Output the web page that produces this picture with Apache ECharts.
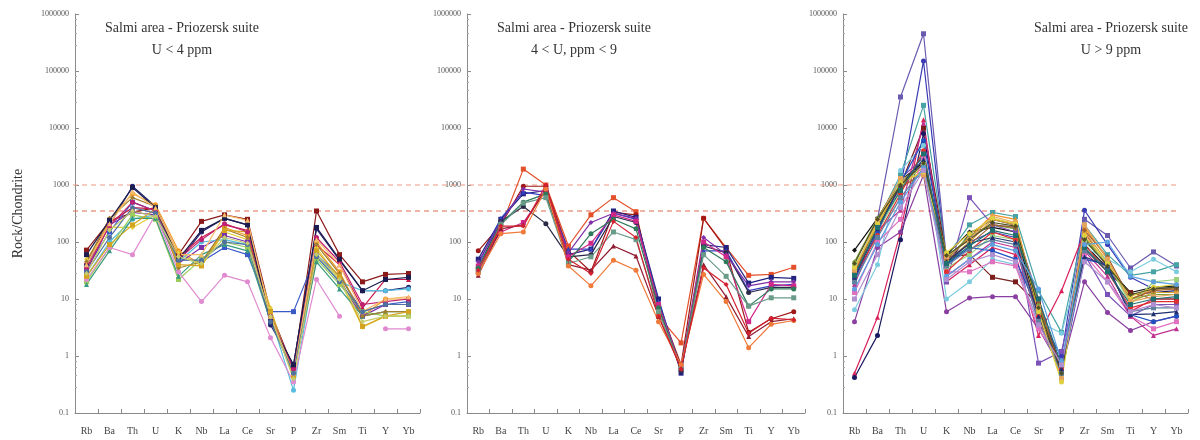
<!DOCTYPE html>
<html>
<head>
<meta charset="utf-8">
<script src="https://cdn.jsdelivr.net/npm/echarts@6/dist/echarts.min.js"></script>
<style>html,body{margin:0;padding:0;background:#fff}#c{width:1200px;height:440px}</style>
</head>
<body>
<div id="c"></div>
<script>
const categories = ['Rb','Ba','Th','U','K','Nb','La','Ce','Sr','P','Zr','Sm','Ti','Y','Yb'];
const panelTitle = 'Salmi area - Priozersk suite';
const panelSubtitles = ['U < 4 ppm', '4 < U, ppm < 9', 'U > 9 ppm'];
const yAxisName = 'Rock/Chondrite';
const refLines = [1000, 350];

// Panel 1: U < 4 ppm
const panel1 = [
  [72, 230, 330, 400, 60, 230, 300, 250, 6, 0.6, 350, 60, 20, 27, 28],
  [40, 200, 950, 420, 45, 150, 260, 200, 3.5, 0.7, 170, 48, 14, 14, 16],
  [35, 150, 500, 350, 50, 45, 80, 60, 6, 6, 60, 25, 6, 8, 9],
  [45, 220, 400, 380, 55, 120, 200, 160, 5, 0.6, 90, 40, 7, 22, 22],
  [30, 250, 700, 450, 70, 40, 180, 130, 5, 0.5, 100, 30, 5, 10, 10],
  [50, 180, 180, 300, 65, 38, 150, 110, 7, 0.4, 80, 22, 3.2, 5, 5],
  [30, 200, 330, 300, 42, 80, 130, 100, 4, 0.55, 60, 20, 5, 8, 8],
  [25, 100, 250, 300, 45, 100, 110, 90, 5, 0.25, 60, 20, 14, 14, 15],
  [20, 80, 300, 250, 22, 50, 100, 80, 5, 0.5, 50, 18, 6, 5, 5],
  [18, 70, 260, 260, 25, 60, 90, 70, 4, 0.5, 45, 15, 5, 6, 6],
  [22, 80, 60, 300, 30, 9, 26, 20, 2.1, 0.35, 22, 5, null, 3, 3],
  [45, 260, 600, 420, 35, 45, 170, 120, 6, 0.5, 90, 28, 5, 6, 6],
  [25, 90, 200, 380, 40, 38, 160, 150, 6, 0.45, 70, 25, 3.3, 5, 6],
  [35, 190, 500, 350, 50, 110, 210, 150, 5, 0.6, 120, 45, 8, 9, 10],
  [60, 240, 900, 400, 50, 160, 260, 200, 4, 0.7, 180, 50, 14, 22, 24],
  [40, 210, 750, 400, 60, 60, 300, 240, 5, 0.5, 110, 40, 6, 10, 11],
  [30, 120, 400, 320, 48, 48, 100, 90, 4, 0.5, 55, 20, 6, 8, 8],
  [28, 160, 350, 280, 55, 42, 120, 95, 5, 0.4, 60, 22, 4, 5, 5]
];
const panel1Colors = ['#8b1a1a','#22226e','#3a5ac8','#c8184a','#f09a28','#e6cc3a','#7a30a8','#58bce0','#9ccc5a','#3a9a80','#e08ad0','#a08030','#d4a420','#c02070','#1c1c50','#f6bc6a','#5070a0','#c4cc6a'];

// Panel 2: 4 < U < 9 ppm
const panel2 = [
  [30, 180, 1900, 1000, 85, 300, 600, 340, 5, 1.7, 260, 80, 26, 27, 36],
  [70, 200, 950, 950, 70, 30, 330, 300, 8, 0.7, 260, 75, 2.6, 4.5, 6],
  [50, 250, 700, 800, 60, 75, 350, 270, 10, 0.5, 90, 80, 19, 24, 23],
  [40, 260, 750, 650, 75, 75, 320, 250, 9, 0.6, 70, 70, 14, 17, 18],
  [35, 230, 420, 210, 55, 60, 280, 220, 8, 0.55, 85, 65, 13, 16, 16],
  [45, 220, 850, 750, 65, 220, 320, 260, 7, 0.6, 120, 60, 17, 20, 20],
  [38, 150, 220, 800, 55, 95, 300, 230, 8, 0.6, 100, 55, 4, 18, 17],
  [35, 210, 500, 700, 45, 140, 250, 170, 7, 0.6, 80, 45, 7.5, 15, 15],
  [30, 200, 480, 600, 42, 55, 150, 110, 6, 0.6, 60, 25, 7.5, 10.5, 10.5],
  [26, 170, 200, 850, 40, 32, 85, 57, 5, 0.6, 40, 11, 2.2, 4, 4.5],
  [28, 140, 150, 850, 38, 17, 48, 32, 4, 0.7, 27, 9, 1.4, 3.6, 4.2],
  [32, 190, 190, 1000, 50, 28, 230, 120, 5, 0.6, 35, 18, 2.5, 4.6, 4.3]
];
const panel2Colors = ['#e4502a','#a01818','#222280','#3442c0','#2a2a48','#8030a8','#d02888','#2e7a5a','#6a9a88','#901c30','#f07a3a','#d42030'];

// Panel 3: U > 9 ppm
const panel3 = [
  [20, 250, 35000, 450000, 50, 120, 200, 180, 10, 0.6, 250, 130, 35, 67, 38],
  [25, 200, 900, 150000, 40, 100, 150, 120, 5, 1.0, 360, 90, 24, 15, 16],
  [30, 230, 1500, 25000, 55, 200, 330, 280, 14, 2.6, 200, 60, 26, 30, 40],
  [0.5, 4.8, 150, 14000, 20, 40, 80, 60, 2.3, 14, 150, 35, 6, 10, 10],
  [0.42, 2.3, 110, 8000, 40, 140, 250, 200, 7, 0.6, 120, 40, 12, 13, 14],
  [72, 260, 1200, 2500, 60, 150, 180, 150, 6, 0.5, 90, 35, 13, 16, 17],
  [30, 180, 1000, 10000, 55, 60, 24, 20, 8, 0.6, 75, 30, 13, 10, 10],
  [4, 80, 150, 1500, 6, 10.4, 11, 11, 3, 0.6, 20, 5.8, 2.8, 4, 5],
  [35, 220, 1300, 3000, 20, 600, 200, 150, 0.75, 1.2, 60, 12, 5, 8, 8],
  [35, 200, 1100, 2000, 50, 120, 300, 250, 6, 0.5, 180, 50, 10, 15, 15],
  [30, 190, 1000, 1800, 45, 100, 250, 200, 7, 0.4, 150, 45, 9, 13, 13],
  [45, 260, 1200, 2200, 50, 130, 200, 170, 8, 0.5, 120, 40, 10, 12, 12],
  [40, 150, 800, 2500, 35, 60, 130, 110, 5, 0.5, 100, 45, 8, 20, 22],
  [6.5, 40, 1800, 5000, 10, 20, 50, 40, 4, 2.5, 80, 50, 30, 50, 30],
  [13, 100, 250, 3000, 30, 30, 45, 38, 3, 0.7, 60, 20, 5, 3, 4],
  [18, 160, 360, 12000, 25, 50, 100, 80, 4, 0.6, 70, 25, 5, 2.3, 3],
  [22, 150, 1100, 6000, 40, 80, 70, 50, 6, 0.5, 50, 40, 5.3, 4, 5],
  [28, 220, 900, 1600, 50, 90, 200, 180, 9, 0.5, 160, 55, 10, 14, 15],
  [32, 240, 1300, 1500, 55, 110, 280, 220, 7, 0.4, 200, 50, 9, 11, 12],
  [25, 130, 700, 4000, 30, 70, 150, 110, 5, 0.6, 90, 30, 7, 9, 9],
  [20, 120, 600, 2000, 38, 75, 110, 90, 4, 0.5, 70, 35, 6, 7, 7],
  [24, 170, 1000, 2800, 45, 95, 120, 100, 5, 0.6, 55, 38, 5.3, 5.5, 6],
  [36, 210, 1100, 1700, 65, 140, 260, 210, 6, 0.35, 130, 42, 11, 16, 18],
  [42, 250, 1000, 2400, 58, 110, 220, 190, 7, 0.5, 110, 38, 12, 15, 16],
  [26, 180, 800, 3500, 42, 85, 160, 130, 10, 0.7, 80, 30, 8, 10, 11],
  [15, 90, 500, 2000, 25, 50, 90, 70, 15, 0.8, 90, 100, 25, 20, 18],
  [10, 60, 400, 1800, 22, 45, 60, 45, 3.5, 0.7, 45, 20, 6, 8, 7]
];
const panel3Colors = ['#6a5ab0','#3a3ab4','#48a4a4','#d8205a','#1a1a60','#111111','#7a1e1e','#8a40a0','#7a52b8','#f0901e','#d4a430','#80a040','#9cd07c','#7ccce0','#e070c0','#c03090','#2050c0','#a06030','#e4a45c','#e03030','#6080a0','#203070','#e0d040','#505020','#207070','#5ca0e0','#b090d0'];

const panels = [panel1, panel2, panel3];
const panelColors = [panel1Colors, panel2Colors, panel3Colors];
const refLineColors = ['#e99a86', '#e26a4e'];
const symbols = ['rect', 'circle', 'rect', 'triangle', 'circle', 'diamond'];

const gridDefs = [
  { left: 75, width: 345 },
  { left: 467, width: 338 },
  { left: 843, width: 345 }
];
const TOP = 14, HEIGHT = 399;
const serif = 'Liberation Serif, Times New Roman, serif';

const grids = gridDefs.map(g => ({ left: g.left, width: g.width, top: TOP, height: HEIGHT }));
grids.push({ left: 73, width: 1107, top: TOP, height: HEIGHT });

const fmt = v => String(+(+v).toPrecision(6));

const xAxes = gridDefs.map((g, i) => ({
  type: 'category', gridIndex: i, data: categories, boundaryGap: true,
  axisLine: { lineStyle: { color: '#8a8a8a', width: 1 } },
  axisTick: { show: true, inside: true, length: 4, lineStyle: { color: '#8a8a8a' } },
  axisLabel: { fontFamily: serif, fontSize: 10, color: '#444', margin: 13, interval: 0 },
  splitLine: { show: false }
}));
xAxes.push({ type: 'value', gridIndex: 3, min: 0, max: 1, show: false });

const yAxes = gridDefs.map((g, i) => ({
  type: 'log', logBase: 10, gridIndex: i, min: 0.1, max: 1000000,
  axisLine: { show: true, lineStyle: { color: '#8a8a8a', width: 1 } },
  axisTick: { show: true, inside: true, length: 4, lineStyle: { color: '#8a8a8a' } },
  minorTick: { show: true, splitNumber: 5, length: 2, lineStyle: { color: '#aaa' } },
  axisLabel: { fontFamily: serif, fontSize: 8, color: '#555', margin: 6, formatter: fmt },
  splitLine: { show: false },
  name: i === 0 ? yAxisName : '',
  nameLocation: 'middle', nameRotate: 90, nameGap: 50,
  nameTextStyle: { fontFamily: serif, fontSize: 14, color: '#333' }
}));
yAxes.push({ type: 'log', logBase: 10, gridIndex: 3, min: 0.1, max: 1000000, show: false });

const series = [];
// Dashed reference levels across all three panels (drawn through the hidden full-width grid)
refLines.forEach((v, k) => {
  series.push({
    type: 'line', xAxisIndex: 3, yAxisIndex: 3, data: [[0, v], [1, v]],
    symbol: 'none', silent: true, z: 1,
    lineStyle: { type: [5, 4], width: 1.2, color: refLineColors[k] }
  });
});
panels.forEach((rows, p) => {
  rows.forEach((row, i) => {
    const c = panelColors[p][i % panelColors[p].length];
    series.push({
      type: 'line', xAxisIndex: p, yAxisIndex: p, data: row,
      symbol: symbols[i % symbols.length], symbolSize: 5,
      lineStyle: { width: 1.2, color: c }, itemStyle: { color: c },
      connectNulls: false, animation: false, silent: true, z: 3
    });
  });
});

const centers = [177, 569, 1106];
const titles = centers.map((cx, i) => ({
  text: panelTitle + '\n' + panelSubtitles[i],
  left: cx, top: 12, textAlign: 'center',
  textStyle: { fontFamily: serif, fontSize: 14, fontWeight: 'normal', color: '#333', lineHeight: 22 }
}));

const chart = echarts.init(document.getElementById('c'), null, { renderer: 'canvas' });
chart.setOption({
  animation: false,
  backgroundColor: '#fff',
  title: titles,
  grid: grids,
  xAxis: xAxes,
  yAxis: yAxes,
  series: series
});
</script>
</body>
</html>
